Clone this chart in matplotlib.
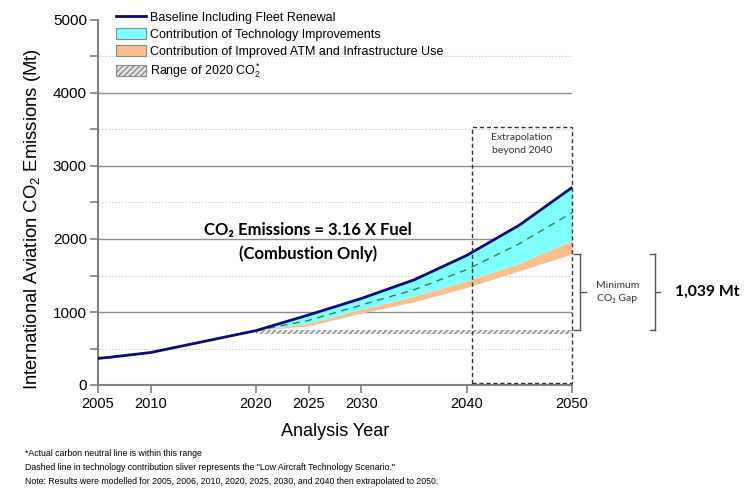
import numpy as np
import matplotlib.pyplot as plt
from matplotlib.lines import Line2D
from matplotlib.patches import Patch, Rectangle

plt.rcParams['font.family'] = ['Liberation Sans', 'DejaVu Sans']
plt.rcParams['mathtext.fontset'] = 'custom'
plt.rcParams['mathtext.rm'] = 'Liberation Sans'
plt.rcParams['mathtext.it'] = 'Liberation Sans:italic'
plt.rcParams['mathtext.bf'] = 'Liberation Sans:bold'
plt.rcParams['hatch.color'] = '#8a8a8a'
plt.rcParams['hatch.linewidth'] = 1.0

# data
years = [2005, 2006, 2010, 2020, 2025, 2030, 2035, 2040, 2045, 2050]
baseline = [365, 378, 445, 745, 960, 1185, 1440, 1775, 2190, 2705]

fill_years = [2020, 2025, 2030, 2035, 2040, 2045, 2050]
tech_low = [745, 885, 1095, 1305, 1580, 1936, 2360]     # low aircraft technology scenario (dashed)
tech_floor = [745, 845, 1035, 1215, 1425, 1665, 1975]   # baseline minus technology
atm_floor = [745, 810, 985, 1140, 1335, 1564, 1795]     # minus ATM and infrastructure

range_years = [2020, 2050]
range_lo = 700
range_hi = 760

extrap_x = (2040.5, 2050)
extrap_y = (28, 3540)

gap_top = 1790
gap_bottom = 755
gap_label = '1,039 Mt'

xtick_years = [2005, 2010, 2020, 2025, 2030, 2040, 2050]

navy = '#0b0b7a'
cyan = '#80ffff'
orange = '#fabf8f'
green = '#3d7f3d'

fig = plt.figure(figsize=(7.44, 4.88), dpi=100)
ax = fig.add_axes([98 / 744, 1 - 385 / 488, 474 / 744, 365 / 488])

base_fill = [baseline[years.index(y)] for y in fill_years]
ax.fill_between(fill_years, tech_floor, base_fill, color=cyan, lw=0, zorder=3)
ax.fill_between(fill_years, atm_floor, tech_floor, color=orange, lw=0, zorder=3)
ax.fill_between(range_years, [range_lo] * 2, [range_hi] * 2, facecolor='#ececec',
                edgecolor='#8a8a8a', hatch='//////', lw=0, zorder=2)
ax.plot(fill_years, tech_low, color=green, lw=1, ls=(0, (5, 4)), zorder=4)
ax.plot(years, baseline, color=navy, lw=2, zorder=5)

ax.add_patch(Rectangle((extrap_x[0], extrap_y[0]), extrap_x[1] - extrap_x[0],
                       extrap_y[1] - extrap_y[0], fill=False, ec='#333333', lw=1,
                       ls=(0, (3, 2)), zorder=6, clip_on=False))
ax.text(np.mean(extrap_x), 3300, 'Extrapolation\nbeyond 2040', ha='center', va='center',
        fontsize=7.5, family=['Lato', 'DejaVu Sans'], color='#333333', linespacing=1.5)

ax.text(2024.9, 1960, 'CO\u2082 Emissions = 3.16 X Fuel\n(Combustion Only)', ha='center',
        va='center', fontsize=12, fontweight='bold', family=['Lato', 'DejaVu Sans'],
        linespacing=1.55)

# bracket for the minimum gap
gap_mid = (gap_top + gap_bottom) / 2
bx = 2050.75
for yv in (gap_top, gap_bottom):
    ax.plot([bx - 0.55, bx], [yv, yv], color='#555555', lw=1, clip_on=False)
ax.plot([bx, bx], [gap_bottom, gap_top], color='#555555', lw=1, clip_on=False)
ax.plot([bx, bx + 0.55], [gap_mid, gap_mid], color='#555555', lw=1, clip_on=False)
ax.text(2054.3, gap_mid, 'Minimum\nCO\u2082 Gap', ha='center', va='center', fontsize=7.5,
        family=['Lato', 'DejaVu Sans'], color='#333333', linespacing=1.6, clip_on=False)
bx2 = 2057.9
for yv in (gap_top, gap_bottom):
    ax.plot([bx2 - 0.5, bx2], [yv, yv], color='#555555', lw=1, clip_on=False)
ax.plot([bx2, bx2], [gap_bottom, gap_top], color='#555555', lw=1, clip_on=False)
ax.plot([bx2, bx2 + 0.5], [gap_mid, gap_mid], color='#555555', lw=1, clip_on=False)
ax.text(2059.8, gap_mid, gap_label, ha='left', va='center', fontsize=11.3,
        fontweight='bold', family=['Lato', 'DejaVu Sans'], clip_on=False)

ax.set_xlim(2005, 2050)
ax.set_ylim(0, 5000)
ax.set_xticks(xtick_years)
ax.set_yticks(range(0, 5001, 1000))
ax.set_yticks(range(500, 5000, 1000), minor=True)
ax.yaxis.grid(True, which='major', color='#8c8c8c', lw=1)
ax.yaxis.grid(True, which='minor', color='#cfcfcf', lw=0.8, ls=(0, (1.5, 1.5)))
ax.get_ygridlines()[-1].set_visible(False)
ax.set_axisbelow(True)
for s in ('top', 'right'):
    ax.spines[s].set_visible(False)
for s in ('left', 'bottom'):
    ax.spines[s].set_color('#808080')
    ax.spines[s].set_linewidth(1.5)
ax.tick_params(axis='both', which='both', color='#808080', width=1.2, length=6)
ax.tick_params(axis='x', labelsize=10.5, pad=3)
ax.tick_params(axis='y', labelsize=11, pad=2)

ax.set_ylabel('International Aviation CO$_2$ Emissions (Mt)', fontsize=13.3)
ax.yaxis.set_label_coords(-0.115, 0.455)
ax.set_xlabel('Analysis Year', fontsize=13, labelpad=8)

handles = [Line2D([], [], color=navy, lw=2),
           Patch(facecolor=cyan, edgecolor='#8a8a8a', lw=0.8),
           Patch(facecolor=orange, edgecolor='#8a8a8a', lw=0.8),
           Patch(facecolor='#e6e6e6', edgecolor='#8a8a8a', hatch='//////', lw=0.8)]
labels = ['Baseline Including Fleet Renewal',
          'Contribution of Technology Improvements',
          'Contribution of Improved ATM and Infrastructure Use',
          'Range of 2020 CO$_2^*$']
fig.legend(handles, labels, loc='upper left', bbox_to_anchor=(116 / 744, 1 - 11 / 488),
           frameon=False, fontsize=9, handlelength=2.4, handleheight=1.05,
           handletextpad=0.3, labelspacing=0.3, borderpad=0, borderaxespad=0)

notes = ['*Actual carbon neutral line is within this range',
         'Dashed line in technology contribution sliver represents the "Low Aircraft Technology Scenario."',
         'Note: Results were modelled for 2005, 2006, 2010, 2020, 2025, 2030, and 2040 then extrapolated to 2050.']
for i, n in enumerate(notes):
    fig.text(25 / 744, 1 - (454 + 14 * i) / 488, n, fontsize=6.3, va='center', ha='left')

fig.savefig('out.png', dpi=100)
